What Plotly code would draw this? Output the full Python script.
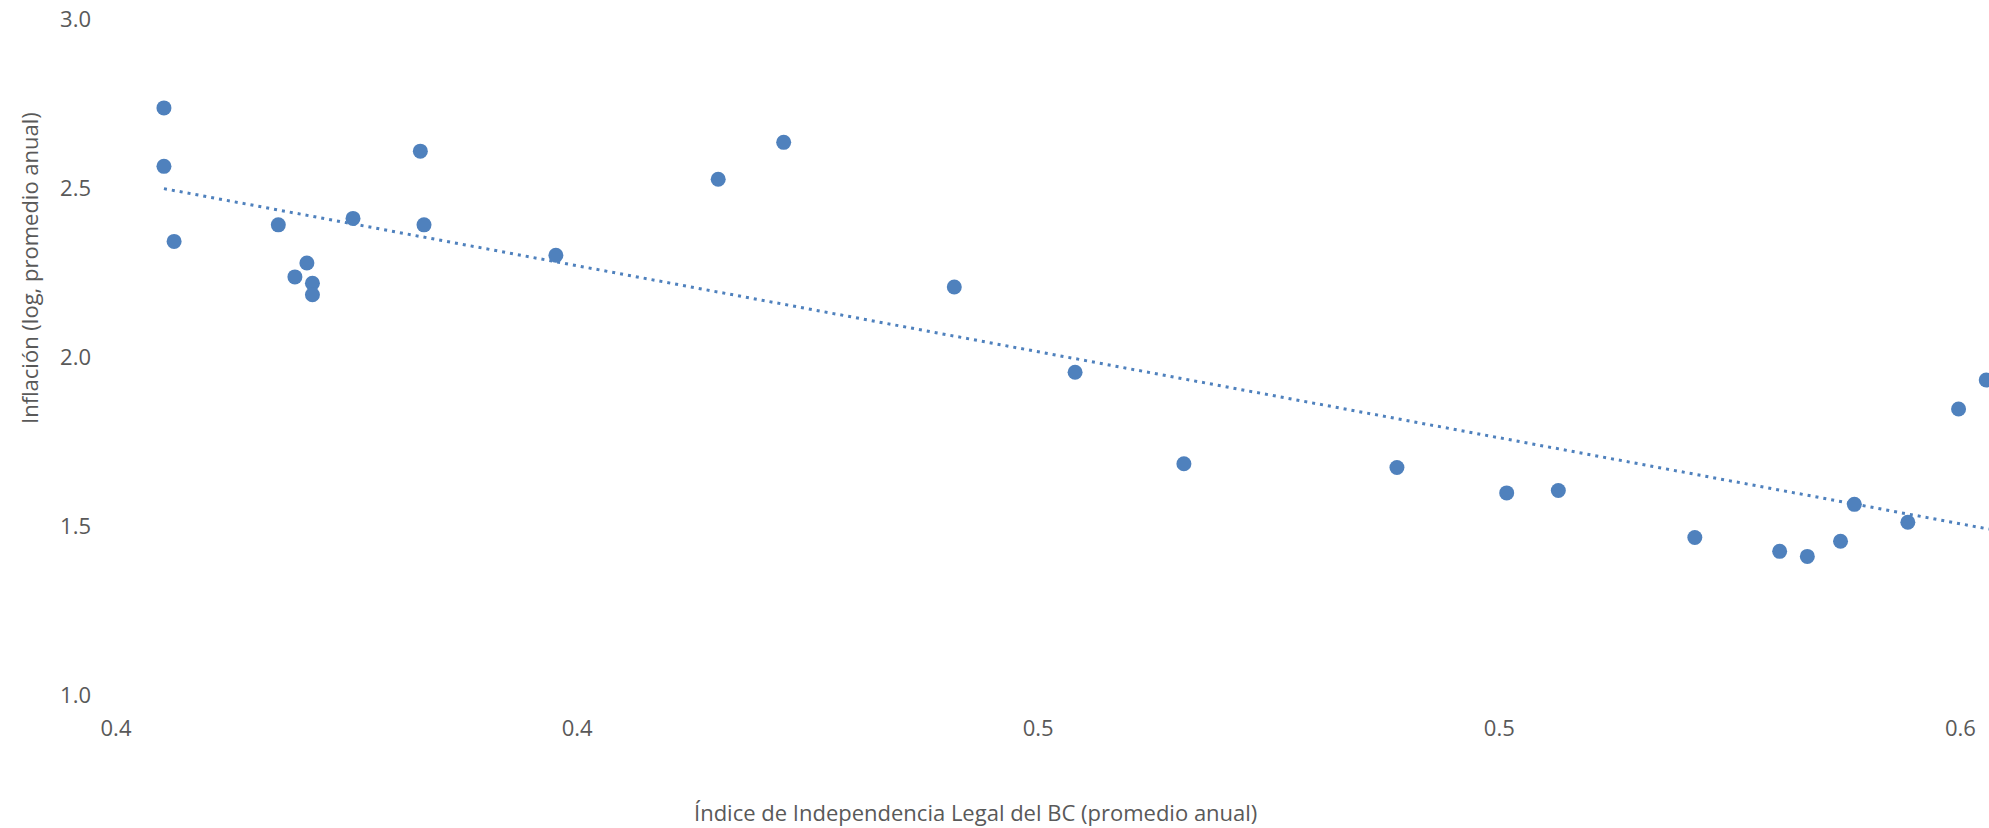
import numpy as np
import plotly.graph_objects as go

# Data
independencia = [0.3552, 0.3552, 0.3563, 0.3676, 0.3694, 0.3707, 0.3713, 0.3713,
                 0.3757, 0.3830, 0.3834, 0.3977, 0.4153, 0.4224, 0.4409, 0.4540,
                 0.4658, 0.4889, 0.5008, 0.5064, 0.5212, 0.5304, 0.5334, 0.5370,
                 0.5385, 0.5443, 0.5498, 0.5528]
inflacion = [2.737, 2.564, 2.342, 2.391, 2.237, 2.278, 2.218, 2.184,
             2.410, 2.609, 2.391, 2.301, 2.526, 2.635, 2.207, 1.955,
             1.684, 1.673, 1.598, 1.605, 1.466, 1.425, 1.410, 1.455,
             1.564, 1.511, 1.846, 1.932]

x_tickvals = [0.35, 0.40, 0.45, 0.50, 0.55]
x_ticktext = ["0.4", "0.4", "0.5", "0.5", "0.6"]
y_tickvals = [1.0, 1.5, 2.0, 2.5, 3.0]
y_ticktext = ["1.0", "1.5", "2.0", "2.5", "3.0"]

x_title = "Índice de Independencia Legal del BC (promedio anual)"
y_title = "Inflación (log, promedio anual)"

x_range = [0.35, 0.5531]

# Linear trend line (least squares)
slope, intercept = np.polyfit(independencia, inflacion, 1)
trend_x = [min(independencia), x_range[1]]
trend_y = [slope * v + intercept for v in trend_x]

BLUE = "#4F81BD"
GREY = "#595959"
FONT = "Open Sans"

fig = go.Figure()
fig.add_trace(go.Scatter(
    x=trend_x, y=trend_y, mode="lines",
    line=dict(color=BLUE, width=3, dash="3px,5px"),
    hoverinfo="skip", showlegend=False,
))
fig.add_trace(go.Scatter(
    x=independencia, y=inflacion, mode="markers",
    marker=dict(color=BLUE, size=15, line=dict(width=0)),
    showlegend=False,
))

W, H = 1989, 828
L, R, T, B = 116, 0, 19, 133
pw, ph = W - L - R, H - T - B

fig.update_layout(
    width=W, height=H,
    margin=dict(l=L, r=R, t=T, b=B, pad=0),
    paper_bgcolor="white", plot_bgcolor="white",
    font=dict(family=FONT, color=GREY, size=22),
    xaxis=dict(
        range=x_range, tickvals=x_tickvals, ticktext=x_ticktext,
        showgrid=False, zeroline=False, showline=False, ticks="",
        tickfont=dict(family=FONT, size=22, color=GREY),
        ticklabelstandoff=18,
    ),
    yaxis=dict(
        range=[1.0, 3.0], tickvals=y_tickvals, ticktext=y_ticktext,
        showgrid=False, zeroline=False, showline=False, ticks="",
        tickfont=dict(family=FONT, size=22, color=GREY),
        ticklabelstandoff=24,
    ),
    annotations=[
        dict(text=x_title, xref="paper", yref="paper",
             x=(975 - L) / pw, y=-(812 - (H - B)) / ph,
             xanchor="center", yanchor="middle", showarrow=False,
             font=dict(family=FONT, size=22, color=GREY)),
        dict(text=y_title, xref="paper", yref="paper",
             x=(29 - L) / pw, y=((H - B) - 268) / ph,
             xanchor="center", yanchor="middle", showarrow=False,
             textangle=-90,
             font=dict(family=FONT, size=22, color=GREY)),
    ],
)

fig.write_html(
    "out.html",
    config={"displayModeBar": False},
    post_script="document.body.style.margin='0';document.body.style.overflow='hidden';",
)
